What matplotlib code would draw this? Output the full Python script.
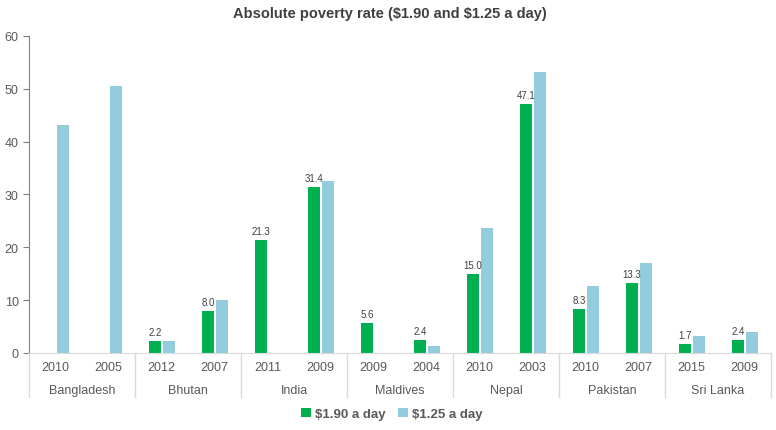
import matplotlib
matplotlib.use("Agg")
import matplotlib.pyplot as plt
import numpy as np

countries = ["Bangladesh", "Bhutan", "India", "Maldives", "Nepal", "Pakistan", "Sri Lanka"]
years = ["2010", "2005", "2012", "2007", "2011", "2009", "2009", "2004",
         "2010", "2003", "2010", "2007", "2015", "2009"]
usd190 = [np.nan, np.nan, 2.2, 8.0, 21.3, 31.4, 5.6, 2.4, 15.0, 47.1, 8.3, 13.3, 1.7, 2.4]
usd125 = [43.2, 50.6, 2.3, 10.0, np.nan, 32.6, np.nan, 1.3, 23.7, 53.2, 12.7, 17.0, 3.2, 4.0]
yticks = [0, 10, 20, 30, 40, 50, 60]

plt.rcParams['font.family'] = ['Liberation Sans', 'DejaVu Sans']
plt.rcParams['text.parse_math'] = False
GREEN = "#00B050"
BLUE = "#93CDDD"
TXT = "#595959"

fig = plt.figure(figsize=(7.76, 4.31), dpi=100)
ax = fig.add_axes([0.0374, 0.1787, 0.9562, 0.7355])

x = np.arange(len(years))
w = 0.23
ax.bar(x - 0.125, usd190, width=w, color=GREEN, label="$1.90 a day")
ax.bar(x + 0.135, usd125, width=w, color=BLUE, label="$1.25 a day")

for xi, v in zip(x, usd190):
    if not np.isnan(v):
        ax.annotate(f"{v:.1f}", (xi - 0.125, v), xytext=(0, 3), textcoords="offset points",
                    ha="center", va="bottom", fontsize=7, color="#404040")

ax.set_xlim(-0.5, len(years) - 0.5)
ax.set_ylim(0, 60)
ax.set_yticks(yticks)
ax.tick_params(axis='y', labelsize=9, colors=TXT, length=4, width=0.8, direction='out')
ax.tick_params(axis='y', color="#808080")
ax.set_xticks(x)
ax.set_xticklabels(years)
ax.tick_params(axis='x', length=0, labelsize=9, colors=TXT, pad=6)

for s in ["top", "right"]:
    ax.spines[s].set_visible(False)
ax.spines["left"].set_color("#808080")
ax.spines["bottom"].set_color("#D9D9D9")

trans = ax.get_xaxis_transform()
n_groups = len(countries)
for g in range(n_groups + 1):
    xs = 2 * g - 0.5
    ax.plot([xs, xs], [0, -0.14], transform=trans, color="#D9D9D9", lw=1, clip_on=False)
for g, c in enumerate(countries):
    ax.text(2 * g + 0.5, -0.117, c, transform=trans, ha="center", va="center",
            fontsize=9, color=TXT)

ax.set_title("Absolute poverty rate ($1.90 and $1.25 a day)", fontsize=10.5, fontweight="bold",
             color="#404040", pad=14, x=0.486)

leg = fig.legend(loc="center", bbox_to_anchor=(0.505, 0.037), ncol=2, frameon=False,
                 handlelength=0.7, handleheight=0.7, handletextpad=0.3,
                 columnspacing=1.0, prop={'weight': 'bold', 'size': 9.5})
for t in leg.get_texts():
    t.set_color(TXT)

fig.savefig("out.png", dpi=100)
